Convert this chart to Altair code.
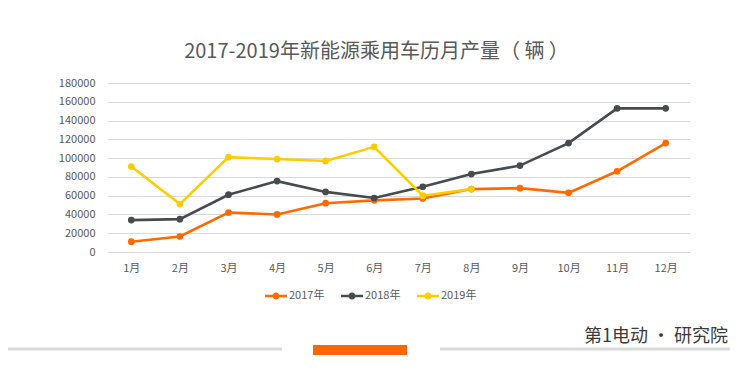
import altair as alt
import pandas as pd

months = ["1月", "2月", "3月", "4月", "5月", "6月", "7月", "8月", "9月", "10月", "11月", "12月"]
series_names = ["2017年", "2018年", "2019年"]
v2017 = [11000, 16500, 42000, 40000, 52000, 55000, 57000, 67000, 68000, 63000, 86000, 116000]
v2018 = [34000, 35000, 61000, 75500, 64000, 57500, 69500, 83000, 92000, 116000, 153000, 153000]
v2019 = [91000, 51000, 101000, 99000, 97000, 112000, 60000, 67000]
colors = ["#ff6a00", "#474b4e", "#ffcc00"]
y_ticks = [0, 20000, 40000, 60000, 80000, 100000, 120000, 140000, 160000, 180000]

rows = []
for name, vals in zip(series_names, [v2017, v2018, v2019]):
    for m, v in zip(months, vals):
        rows.append({"月": m, "年份": name, "产量": v})
df = pd.DataFrame(rows)

FONT = "Noto Sans CJK SC"
GRAY = "#595959"

legend_symbol = ("M-1,-0.11 L1,-0.11 L1,0.11 L-1,0.11 Z "
                 "M-0.32,0 A0.32,0.32 0 1 1 0.32,0 A0.32,0.32 0 1 1 -0.32,0 Z")

color = alt.Color(
    "年份:N",
    scale=alt.Scale(domain=series_names, range=colors),
    legend=alt.Legend(
        title=None, orient="none", legendX=158, legendY=202, direction="horizontal",
        symbolType=legend_symbol, symbolSize=484, symbolStrokeWidth=0,
        labelFont=FONT, labelFontSize=11, labelColor=GRAY, labelOffset=2,
        columnPadding=16,
    ),
)

x = alt.X("月:N", sort=months, scale=alt.Scale(paddingInner=0, paddingOuter=0),
          axis=alt.Axis(title=None, labelAngle=0, ticks=False, domain=False, grid=False,
                        labelFont=FONT, labelFontSize=11, labelColor=GRAY, labelPadding=10))
y = alt.Y("产量:Q", scale=alt.Scale(domain=[0, 180000], nice=False),
          axis=alt.Axis(title=None, values=y_ticks, format="d", ticks=False, domain=False,
                        gridColor="#d9d9d9", gridWidth=1,
                        labelFont=FONT, labelFontSize=11, labelColor=GRAY, labelPadding=12))

lines = alt.Chart(df).mark_line(strokeWidth=2.6).encode(x=x, y=y, color=color)
points = alt.Chart(df).mark_point(filled=True, size=45, opacity=1).encode(x=x, y=y, color=color)

deco_lines = pd.DataFrame({"x1": [-99, 333], "x2": [175, 623]})
gray_rules = alt.Chart(deco_lines).mark_rule(color="#d9d9d9", strokeWidth=3, clip=False).encode(
    x=alt.X("x1:Q", scale=None), x2="x2:Q", y=alt.value(266))
orange = alt.Chart(pd.DataFrame({"a": [1]})).mark_rect(color="#ff6600", clip=False).encode(
    x=alt.value(206), x2=alt.value(300), y=alt.value(262), y2=alt.value(272))
logo = alt.Chart(pd.DataFrame({"t": ["第1电动 · 研究院"]})).mark_text(
    font=FONT, fontSize=18, color="#3a3a3a", align="right", baseline="middle", clip=False
).encode(text="t:N", x=alt.value(621), y=alt.value(254))

chart = alt.layer(lines, points, gray_rules, orange, logo).properties(
    width=583, height=169,
    padding={"left": 99, "top": 75, "right": 40, "bottom": 117},
    autosize=alt.AutoSizeParams(type="none"),
    title=alt.TitleParams("2017-2019年新能源乘用车历月产量（ 辆 ）", font=FONT, fontSize=20,
                          fontWeight="normal", color=GRAY, anchor="middle", dx=-22, offset=15),
).configure(background="white").configure_view(stroke=None)

chart.save("out.html", embed_options={"renderer": "svg", "actions": False})
